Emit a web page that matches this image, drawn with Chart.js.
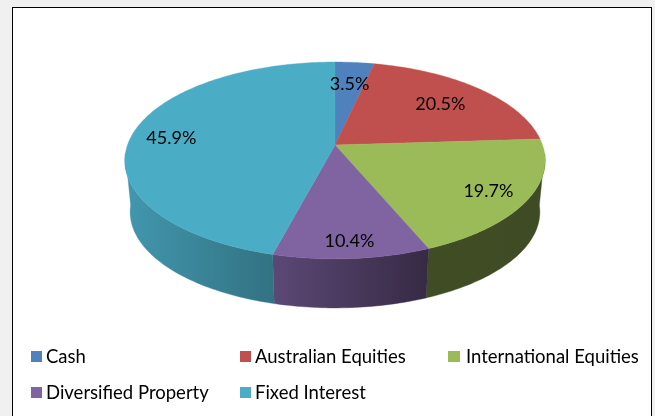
<!DOCTYPE html>
<html>
<head>
<meta charset="utf-8">
<style>
html,body{margin:0;padding:0;background:#f0f0f0;overflow:hidden;width:655px;height:416px}
#frame{position:absolute;left:12px;top:7px;width:638px;height:420px;background:#fff;border:1px solid #000}
#wrap{position:absolute;left:0;top:0;width:655px;height:416px}
</style>
<script src="https://cdn.jsdelivr.net/npm/chart.js@4/dist/chart.umd.js"></script>
</head>
<body>
<div id="frame"></div>
<div id="wrap"><canvas id="c" width="655" height="416"></canvas></div>
<script>
const categories = ['Cash','Australian Equities','International Equities','Diversified Property','Fixed Interest'];
const shares = [3.5,20.5,19.7,10.4,45.9];
const tickLabels = ['3.5%','20.5%','19.7%','10.4%','45.9%'];
const colors = ['#4F81BD','#C0504D','#9BBB59','#8064A2','#4BACC6'];
const wallShadeStart = [.7,.7,.41,.72,.88];
const wallShadeEnd = [.7,.7,.40,.42,.66];
const labelReach = [.71,.71,.82,.87,.80];
const labelTurn = [0,.5,1.2,0,-2.5];
const FONT = 'Lato, Carlito, Calibri, sans-serif';

// Perspective of the tilted disc (unit circle -> screen, relative to the pie's centre)
const TILT = {persp:.157, ySquash:96, wallScale:.975, rimCentre:15.5, wallCentre:67};
function project(el, theta, r){
  const sx = r*Math.sin(theta), sy = r*Math.cos(theta);
  const d = 1 + TILT.persp*sy;
  return {x: el.x + el.outerRadius*sx/d, y: el.y - TILT.ySquash*sy/d};
}
function projectBase(el, theta){
  const p = project(el, theta, 1);
  return {
    x: el.x + (p.x-el.x)*TILT.wallScale,
    y: el.y + TILT.wallCentre + (p.y-el.y-TILT.rimCentre)*TILT.wallScale
  };
}
const toTheta = a => a + Math.PI/2;
const STEP = Math.PI/180;
function shade(hex,f){
  const n = parseInt(hex.slice(1),16);
  return `rgb(${Math.round((n>>16&255)*f)},${Math.round((n>>8&255)*f)},${Math.round((n&255)*f)})`;
}

class Arc3D extends Chart.ArcElement {
  static id = 'arc3d';
  draw(ctx){
    const a0 = toTheta(this.startAngle), a1 = toTheta(this.endAngle);
    ctx.save();
    ctx.beginPath();
    ctx.moveTo(this.x,this.y);
    for(let t=a0;t<a1;t+=STEP){const p=project(this,t,1);ctx.lineTo(p.x,p.y);}
    const e=project(this,a1,1);ctx.lineTo(e.x,e.y);
    ctx.closePath();
    ctx.fillStyle=this.options.backgroundColor;
    ctx.strokeStyle=this.options.backgroundColor;
    ctx.lineWidth=.4;
    ctx.fill();ctx.stroke();
    ctx.restore();
  }
  drawWall(ctx,i){
    const lo = Math.PI*95/180, hi = Math.PI*265/180;
    const a0 = Math.max(toTheta(this.startAngle),lo), a1 = Math.min(toTheta(this.endAngle),hi);
    if(a1<=a0) return;
    const top=[],bot=[];
    for(let t=a0;t<a1;t+=STEP){top.push(project(this,t,1));bot.push(projectBase(this,t));}
    top.push(project(this,a1,1));bot.push(projectBase(this,a1));
    const xs=top.concat(bot).map(p=>p.x);
    const x0=Math.min(...xs),x1=Math.max(...xs);
    const g=ctx.createLinearGradient(x0,0,x1,0);
    const c=this.options.backgroundColor;
    g.addColorStop(0,shade(c,wallShadeStart[i]));
    g.addColorStop(1,shade(c,wallShadeEnd[i]));
    ctx.save();
    ctx.beginPath();
    top.forEach((p,k)=>k?ctx.lineTo(p.x,p.y):ctx.moveTo(p.x,p.y));
    bot.reverse().forEach(p=>ctx.lineTo(p.x,p.y));
    ctx.closePath();
    ctx.fillStyle=g;ctx.strokeStyle=g;ctx.lineWidth=.4;
    ctx.fill();ctx.stroke();
    ctx.restore();
  }
}
class Pie3D extends Chart.DoughnutController {
  static id = 'pie3d';
  static defaults = {dataElementType:'arc3d'};
  draw(){
    const meta=this.getMeta();
    meta.data.forEach((el,i)=>el.drawWall(this.chart.ctx,i));
    super.draw();
  }
}
Chart.register(Arc3D,Pie3D);

const sliceLabels = {
  id:'sliceLabels',
  afterDatasetsDraw(chart){
    const ctx=chart.ctx;
    ctx.save();
    ctx.font='18px '+FONT;
    ctx.fillStyle='#000';
    ctx.textAlign='center';ctx.textBaseline='middle';
    chart.getDatasetMeta(0).data.forEach((el,i)=>{
      const mid=toTheta((el.startAngle+el.endAngle)/2)+labelTurn[i]*STEP;
      const p=project(el,mid,labelReach[i]);
      ctx.fillText(tickLabels[i],p.x,p.y);
    });
    ctx.restore();
  }
};
const legendSlots = [[31,0],[240,0],[448,0],[31,1],[240,1]];
const columnLegend = {
  id:'columnLegend',
  afterDraw(chart){
    const ctx=chart.ctx;
    ctx.save();
    ctx.font='18.5px '+FONT;
    ctx.textAlign='left';ctx.textBaseline='alphabetic';
    categories.forEach((name,i)=>{
      const [x,row]=legendSlots[i];
      const y=351+row*36;
      ctx.fillStyle=colors[i];
      ctx.fillRect(x,y,i===2?12:11,11);
      ctx.fillStyle='#000';
      ctx.fillText(name,x+(i===2?18:15),y+12);
    });
    ctx.restore();
  }
};

new Chart(document.getElementById('c'),{
  type:'pie3d',
  data:{labels:categories,datasets:[{data:shares,backgroundColor:colors,borderWidth:0,radius:207.5}]},
  options:{
    responsive:false,animation:false,cutout:0,
    layout:{padding:{left:15,right:0,top:0,bottom:126}},
    plugins:{legend:{display:false},tooltip:{enabled:false},title:{display:false}}
  },
  plugins:[sliceLabels,columnLegend]
});
</script>
</body>
</html>
